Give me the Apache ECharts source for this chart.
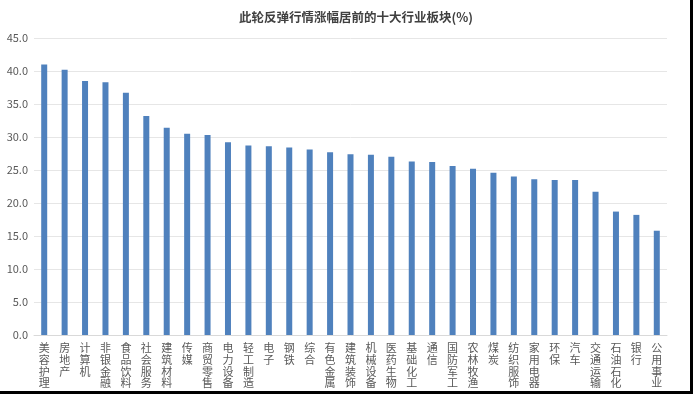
<!DOCTYPE html>
<html><head><meta charset="utf-8">
<script src="https://cdn.jsdelivr.net/npm/echarts@6/dist/echarts.min.js"></script>
<style>html,body{margin:0;padding:0;background:#fff}#c{width:693px;height:394px}</style>
</head><body><div id="c"></div>
<script>
const titleText = '此轮反弹行情涨幅居前的十大行业板块(%)';
const categories = ['美容护理','房地产','计算机','非银金融','食品饮料','社会服务','建筑材料','传媒','商贸零售','电力设备','轻工制造','电子','钢铁','综合','有色金属','建筑装饰','机械设备','医药生物','基础化工','通信','国防军工','农林牧渔','煤炭','纺织服饰','家用电器','环保','汽车','交通运输','石油石化','银行','公用事业'];
const values = [41.0,40.2,38.5,38.3,36.7,33.2,31.4,30.5,30.3,29.2,28.7,28.6,28.4,28.1,27.7,27.4,27.3,27.0,26.3,26.2,25.6,25.2,24.6,24.0,23.6,23.5,23.5,21.7,18.7,18.2,15.8];
const yTicks = [0,5,10,15,20,25,30,35,40,45];

const chart = echarts.init(document.getElementById('c'));
const font = '"Microsoft YaHei","Noto Sans CJK SC",sans-serif';
chart.setOption({
  animation:false,
  title:{text:titleText,left:351,top:6,textAlign:'center',
    textStyle:{fontSize:12.5,fontWeight:'bold',color:'#404040',fontFamily:font}},
  grid:{left:34,right:26,top:38,bottom:59},
  xAxis:{type:'category',data:categories,
    axisLine:{lineStyle:{color:'#d9d9d9'}},axisTick:{show:false},
    axisLabel:{interval:0,margin:7,color:'#595959',fontSize:11,lineHeight:11.8,fontFamily:font,
      formatter:v=>v.split('').join('\n'),verticalAlign:'top'}},
  yAxis:{type:'value',min:yTicks[0],max:yTicks[yTicks.length-1],interval:5,
    axisLine:{show:false},axisTick:{show:false},
    splitLine:{lineStyle:{color:'#e6e6e6'}},
    axisLabel:{color:'#595959',fontSize:11,margin:6,fontFamily:font,formatter:v=>v.toFixed(1)}},
  series:[{type:'bar',data:values,barWidth:6,itemStyle:{color:'#4F81BD'}}],
  graphic:[
    {type:'rect',shape:{x:0,y:391,width:693,height:3},style:{fill:'#000'}},
    {type:'rect',shape:{x:690,y:0,width:3,height:394},style:{fill:'#000'}}
  ]
});
</script></body></html>
